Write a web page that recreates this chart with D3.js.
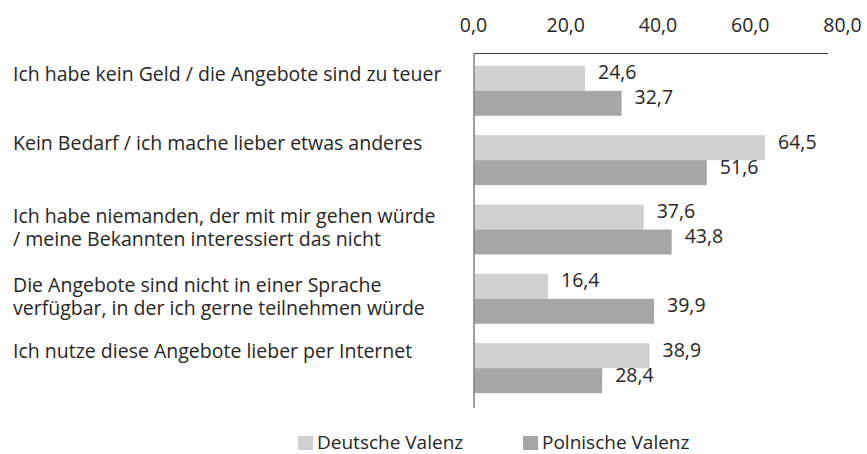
<!DOCTYPE html>
<html>
<head>
<meta charset="UTF-8">
<title>valenz_bar_chart</title>
<style type="text/css">
	body { margin: 0; background: #fff; }
	text { font-family: "Open Sans", Lato, sans-serif; fill: #262626; }
	.cat { font-size: 19.5px; }
	.amount { font-size: 19.5px; }
	.axis text { font-size: 19.5px; fill: #262626; }
	.legend text { font-size: 19px; }
</style>
<script type="text/javascript" src="https://d3js.org/d3.v7.min.js" charset="utf-8"></script>
</head>
<body>
<div id="div_main"></div>
<script type="text/javascript">

	// data
	var categories = [
		["Ich habe kein Geld / die Angebote sind zu teuer"],
		["Kein Bedarf / ich mache lieber etwas anderes"],
		["Ich habe niemanden, der mit mir gehen würde", "/ meine Bekannten interessiert das nicht"],
		["Die Angebote sind nicht in einer Sprache", "verfügbar, in der ich gerne teilnehmen würde"],
		["Ich nutze diese Angebote lieber per Internet"]
	];
	var seriesNames = ["Deutsche Valenz", "Polnische Valenz"];
	var deutsch = [24.6, 64.5, 37.6, 16.4, 38.9];
	var polnisch = [32.7, 51.6, 43.8, 39.9, 28.4];
	var tickValues = [0, 20, 40, 60, 80];
	var colors = ["#d0d0d2", "#a6a6a9"];

	var svg_w = 867, svg_h = 454;

	var catKeys = categories.map(function (d) { return d.join(" "); });
	var dataset = catKeys.map(function (k, i) {
		return { key: k, lines: categories[i], values: [deutsch[i], polnisch[i]] };
	});

	// scales
	var scaleX = d3.scaleLinear().domain([0, 80]).range([474, 835]);
	// tick labels are spread a bit wider than the bars in the original
	var scaleTick = d3.scaleLinear().domain([0, 80]).range([473, 842]);

	var scaleY = d3.scaleBand()
		.domain(catKeys)
		.range([52, 407])
		.paddingInner(0.28)
		.paddingOuter(0.2);

	var scaleSub = d3.scaleBand()
		.domain(seriesNames)
		.range([0, scaleY.bandwidth()]);

	var fmt = function (d) { return d.toFixed(1).replace(".", ","); };

	var svg = d3.select("#div_main")
		.append("svg")
			.attr("width", svg_w)
			.attr("height", svg_h);

	// top axis labels
	var axisX = d3.axisTop(scaleTick)
		.tickValues(tickValues)
		.tickSize(0)
		.tickPadding(0)
		.tickFormat(fmt);

	var gx = svg.append("g")
		.attr("class", "axis")
		.attr("transform", "translate(0,32)")
		.call(axisX);
	gx.select(".domain").remove();

	// top frame line
	svg.append("line")
		.attr("x1", scaleX(0)).attr("x2", 828)
		.attr("y1", 53.5).attr("y2", 53.5)
		.attr("stroke", "#404040")
		.attr("stroke-width", 1);

	// bars
	var groups = svg.selectAll("g.cat-group")
		.data(dataset)
		.enter()
		.append("g")
			.attr("class", "cat-group")
			.attr("transform", function (d) { return "translate(0," + scaleY(d.key) + ")"; });

	groups.selectAll("rect")
		.data(function (d) { return d.values.map(function (v, j) { return { name: seriesNames[j], value: v, j: j }; }); })
		.enter()
		.append("rect")
			.attr("x", scaleX(0))
			.attr("y", function (d) { return scaleSub(d.name); })
			.attr("width", function (d) { return scaleX(d.value) - scaleX(0); })
			.attr("height", scaleSub.bandwidth())
			.attr("fill", function (d) { return colors[d.j]; });

	groups.selectAll("text.amount")
		.data(function (d) { return d.values.map(function (v, j) { return { name: seriesNames[j], value: v }; }); })
		.enter()
		.append("text")
			.attr("class", "amount")
			.attr("x", function (d) { return scaleX(d.value) + 13; })
			.attr("y", function (d) { return scaleSub(d.name) + scaleSub.bandwidth() / 2 + 1; })
			.text(function (d) { return fmt(d.value); });

	// vertical axis line
	svg.append("line")
		.attr("x1", 474).attr("x2", 474)
		.attr("y1", 53).attr("y2", 408)
		.attr("stroke", "#808080")
		.attr("stroke-width", 1.5);

	// category labels
	svg.selectAll("text.cat")
		.data(dataset)
		.enter()
		.append("text")
			.attr("class", "cat")
			.attr("x", 13)
			.attr("y", function (d) {
				var c = scaleY(d.key) + scaleY.bandwidth() / 2;
				return c - 13 + 3 * d.lines.length;
			})
			.each(function (d) {
				var t = d3.select(this);
				d.lines.forEach(function (line, i) {
					t.append("tspan")
						.attr("x", 13)
						.attr("dy", i === 0 ? 0 : 23)
						.text(line);
				});
			});

	// legend
	var legendX = [298, 523];
	var legend = svg.append("g").attr("class", "legend");
	seriesNames.forEach(function (name, i) {
		legend.append("rect")
			.attr("x", legendX[i])
			.attr("y", 436)
			.attr("width", 15)
			.attr("height", 14)
			.attr("fill", colors[i]);
		legend.append("text")
			.attr("x", legendX[i] + 19)
			.attr("y", 449)
			.text(name);
	});

</script>
</body>
</html>
